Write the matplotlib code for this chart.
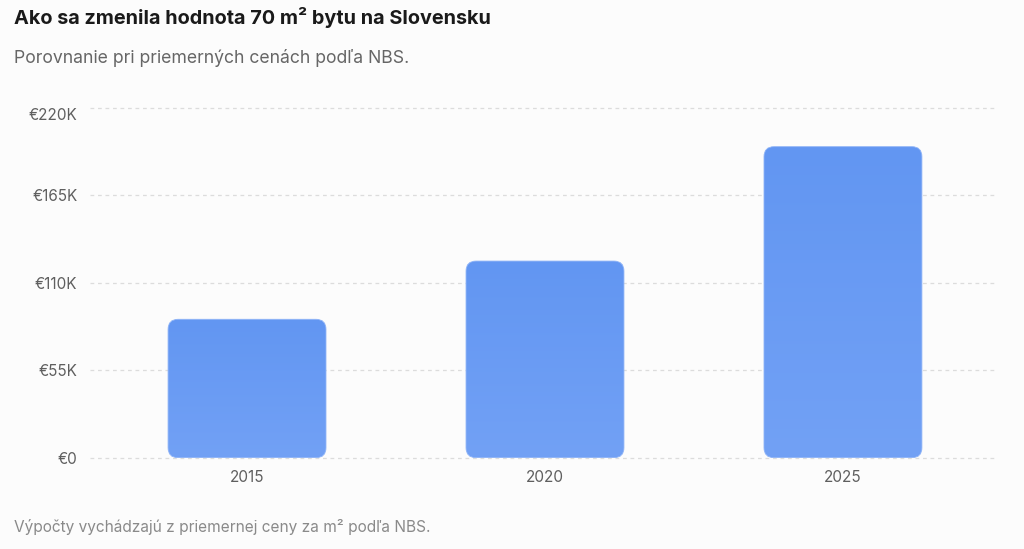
import numpy as np
import matplotlib.pyplot as plt
from matplotlib.patches import FancyBboxPatch
from matplotlib.ticker import FuncFormatter
from matplotlib.transforms import ScaledTranslation

plt.rcParams['font.family'] = ['Inter', 'DejaVu Sans']

roky = ["2015", "2020", "2025"]
hodnoty = [87000, 123600, 195500]
yTicky = [0, 55000, 110000, 165000, 220000]

tlo = "#fcfcfc"
farbaHore = np.array([0x62, 0x96, 0xf2]) / 255
farbaDole = np.array([0x72, 0xa1, 0xf5]) / 255


def formatEur(v, pos):
    if v == 0:
        return "€0"
    return f"€{v / 1000:.0f}K"


fig = plt.figure(figsize=(10.24, 5.49), dpi=100, facecolor=tlo)
ax = fig.add_axes([90 / 1024, (549 - 457.7) / 549, 907 / 1024, 350 / 549])
ax.set_facecolor(tlo)

x = np.arange(len(roky))
ax.set_xlim(-0.527, 2.517)
ax.set_ylim(0, 220000)

# mriezka
for t in yTicky:
    ax.axhline(t, color="#dcdcdc", lw=0.9, ls=(0, (3, 3)), zorder=0, clip_on=False)

sirka = 0.53
fig.canvas.draw()
pxX = ax.transData.transform((1, 0))[0] - ax.transData.transform((0, 0))[0]
pxY = ax.transData.transform((0, 1))[1] - ax.transData.transform((0, 0))[1]
aspekt = pxX / pxY
polomer = 10 / pxX

grad = np.linspace(0, 1, 256)[:, None, None]
obraz = farbaHore[None, None, :] * (1 - grad) + farbaDole[None, None, :] * grad

for xi, h in zip(x, hodnoty):
    stlpec = FancyBboxPatch((xi - sirka / 2, 0), sirka, h,
                            boxstyle=f"round,pad=0,rounding_size={polomer}",
                            mutation_aspect=aspekt,
                            facecolor="none", edgecolor="none", zorder=2)
    ax.add_patch(stlpec)
    im = ax.imshow(obraz, extent=(xi - sirka / 2, xi + sirka / 2, 0, h),
                   aspect="auto", origin="upper", zorder=2)
    im.set_clip_path(stlpec)
    ax.add_patch(FancyBboxPatch((xi - sirka / 2, 0), sirka, h,
                                boxstyle=f"round,pad=0,rounding_size={polomer}",
                                mutation_aspect=aspekt,
                                facecolor="none", edgecolor="#8fb4f7", lw=0.6, zorder=3))

ax.set_xlim(-0.527, 2.517)
ax.set_ylim(0, 220000)
ax.set_xticks(x)
ax.set_xticklabels(roky)
ax.set_yticks(yTicky)
ax.yaxis.set_major_formatter(FuncFormatter(formatEur))
ax.tick_params(axis="both", length=0, colors="#5f5f5f", labelsize=11)
ax.tick_params(axis="y", pad=9)
ax.tick_params(axis="x", pad=9)
for s in ax.spines.values():
    s.set_visible(False)

# horny popis je v originali posunuty nizsie
fig.canvas.draw()
horny = ax.get_yticklabels()[-1]
horny.set_transform(horny.get_transform() + ScaledTranslation(0, -6 / 100, fig.dpi_scale_trans))

fig.text(14 / 1024, 1 - 18 / 549, "Ako sa zmenila hodnota 70 m² bytu na Slovensku",
         fontsize=14.3, fontweight="bold", color="#1a1a1a", va="center", ha="left")
fig.text(14 / 1024, 1 - 58 / 549, "Porovnanie pri priemerných cenách podľa NBS.",
         fontsize=12.7, color="#666666", va="center", ha="left")
fig.text(14 / 1024, 1 - 527 / 549, "Výpočty vychádzajú z priemernej ceny za m² podľa NBS.",
         fontsize=11.1, color="#8a8a8a", va="center", ha="left")

fig.savefig("out.png", dpi=100, facecolor=tlo)
